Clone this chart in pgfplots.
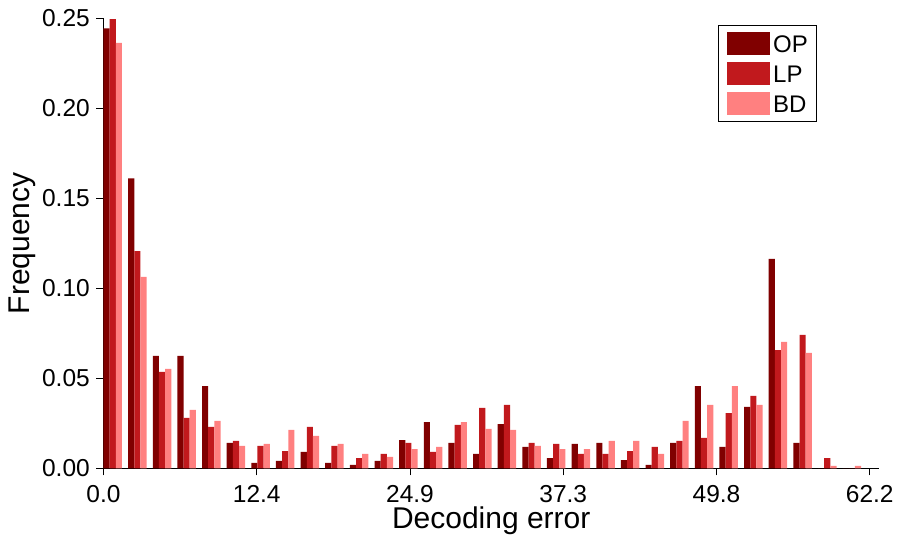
\documentclass[border=0pt]{standalone}
\usepackage{fontspec}
\setmainfont{Liberation Sans}
\usepackage{pgfplots}
\pgfplotsset{compat=1.18}
\definecolor{opc}{HTML}{800000}
\definecolor{lpc}{HTML}{C1191D}
\definecolor{bdc}{HTML}{FF8080}

% bin centres 0.75 + 2i, i = 0..30
\pgfplotstableread{
x      op      lp      bd
0.75   0.2444  0.2496  0.2363
2.75   0.1610  0.1207  0.1063
4.75   0.0624  0.0535  0.0552
6.75   0.0624  0.0280  0.0324
8.75   0.0457  0.0230  0.0263
10.75  0.0141  0.0152  0.0124
12.75  0.0030  0.0124  0.0135
14.75  0.0041  0.0096  0.0213
16.75  0.0091  0.0230  0.0180
18.75  0.0030  0.0124  0.0135
20.75  0.0019  0.0057  0.0080
22.75  0.0041  0.0080  0.0063
24.75  0.0157  0.0141  0.0107
26.75  0.0257  0.0091  0.0119
28.75  0.0141  0.0241  0.0257
30.75  0.0080  0.0335  0.0219
32.75  0.0246  0.0352  0.0213
34.75  0.0119  0.0141  0.0124
36.75  0.0057  0.0135  0.0107
38.75  0.0135  0.0080  0.0107
40.75  0.0141  0.0080  0.0152
42.75  0.0046  0.0096  0.0152
44.75  0.0019  0.0119  0.0080
46.75  0.0141  0.0152  0.0263
48.75  0.0457  0.0169  0.0352
50.75  0.0119  0.0307  0.0457
52.75  0.0341  0.0402  0.0352
54.75  0.1163  0.0657  0.0702
56.75  0.0141  0.0741  0.0641
58.75  0.0000  0.0057  0.0013
60.75  0.0000  0.0000  0.0013
}\errtable

\begin{document}
\begin{tikzpicture}
\useasboundingbox (-103.5pt,-71.7pt) rectangle (796.5pt,468.3pt);
\begin{axis}[
  at={(0pt,0pt)}, anchor=south west,
  scale only axis, width=775.5pt, height=450pt,
  xmin=0, xmax=62.95, ymin=0, ymax=0.25,
  axis lines=left, axis line style={-, line width=0.9pt, black},
  tick align=outside, major tick length=7pt,
  tick style={line width=0.9pt, black},
  ybar=0pt, bar width=0.5,
  xtick={0,12.44,24.88,37.32,49.76,62.2},
  xticklabels={0.0,12.4,24.9,37.3,49.8,62.2},
  ytick={0,0.05,0.10,0.15,0.20,0.25},
  scaled y ticks=false,
  yticklabel={\pgfmathprintnumber[fixed,fixed zerofill,precision=2]{\tick}},
  /pgf/number format/assume math mode=true,
  tick label style={font=\fontsize{24.5}{29}\selectfont},
  xticklabel style={inner sep=0pt, anchor=base, yshift=-27pt},
  yticklabel style={inner sep=0pt, anchor=east, xshift=-6.5pt},
  xlabel={Decoding error}, ylabel={Frequency},
  label style={font=\fontsize{30}{36}\selectfont},
  xlabel style={at={([yshift=-60.5pt]axis description cs:0.5,0)}, anchor=base},
  ylabel style={at={([xshift=-73.5pt]axis description cs:0,0.5)}, anchor=base},
  legend cell align=left,
  legend style={at={(0.792,0.985)}, anchor=north west, draw=black, line width=1pt,
    inner xsep=8.3pt, inner ysep=6pt, row sep=6.4pt, column sep=3.7pt,
    font=\fontsize{24}{28}\selectfont,
    nodes={inner sep=0pt, text height=21pt, text depth=2.6pt}},
  legend image code/.code={\fill[#1,draw=none] (0pt,-11.8pt) rectangle (43pt,11.8pt);},
]
\addplot[fill=opc, draw=none] table[x=x, y=op] {\errtable};
\addplot[fill=lpc, draw=none] table[x=x, y=lp] {\errtable};
\addplot[fill=bdc, draw=none] table[x=x, y=bd] {\errtable};
\legend{OP,LP,BD}
\end{axis}
\end{tikzpicture}
\end{document}
